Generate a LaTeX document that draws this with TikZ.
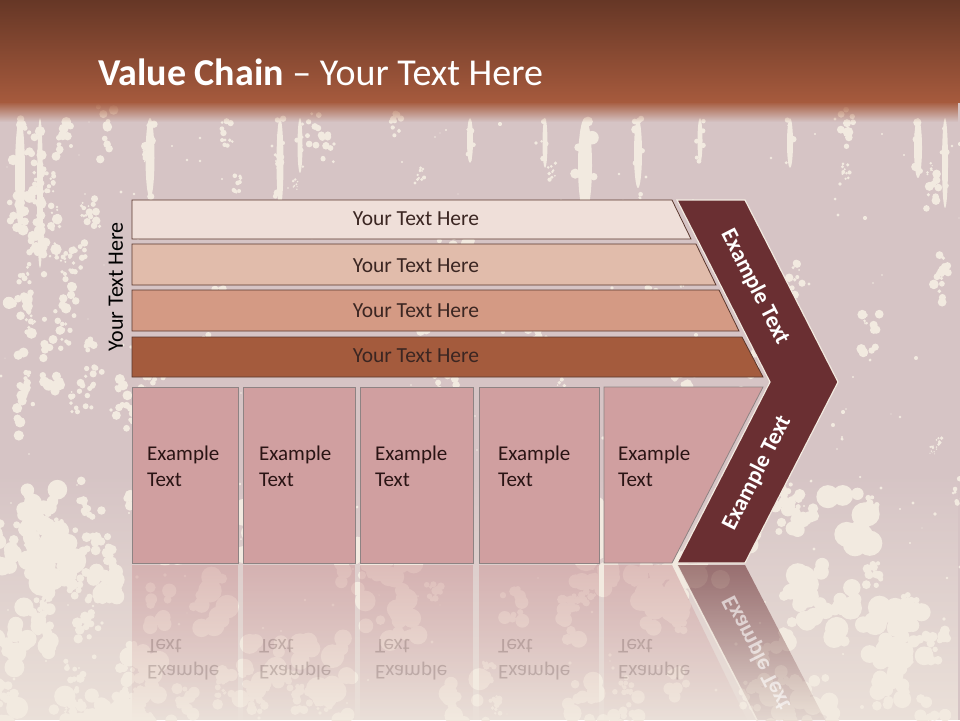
\documentclass[tikz,border=0pt]{standalone}
\usepackage{fontspec}
\setmainfont{Carlito}
\usetikzlibrary{fadings}
\definecolor{bgtop}{HTML}{D6C4C5}
\definecolor{cream}{HTML}{F2EAE0}
\definecolor{hdrtop}{HTML}{663726}
\definecolor{hdrbot}{HTML}{A65A3D}
\definecolor{barA}{HTML}{EFDFD9}
\definecolor{barB}{HTML}{E1BCAB}
\definecolor{barC}{HTML}{D49A84}
\definecolor{barD}{HTML}{A45B3D}
\definecolor{barline}{HTML}{5A372D}
\definecolor{bartxt}{HTML}{3B2622}
\definecolor{chev}{HTML}{6A2F32}
\definecolor{boxc}{HTML}{D09FA0}
\definecolor{boxline}{HTML}{8E8383}
\definecolor{boxtxt}{HTML}{2A1414}
\tikzfading[name=reflfade, top color=transparent!40, bottom color=transparent!100]
\tikzfading[name=hdrfade, top color=transparent!0, bottom color=transparent!100]
\tikzfading[name=risefade, top color=transparent!100, bottom color=transparent!25]
\tikzset{
  barshape/.style={draw=barline, line width=0.8pt},
  bartext/.style={font=\fontsize{21.5}{24}\selectfont, text=bartxt, inner sep=0pt},
  ebox/.style={fill=boxc, draw=boxline, line width=0.8pt},
  eboxtext/.style={font=\fontsize{21}{26}\selectfont, text=boxtxt, align=left, inner sep=0pt, anchor=west},
  chevtext/.style={font=\fontsize{23}{26}\selectfont\bfseries, text=white, inner sep=0pt},
  reflbox/.style={fill=boxc, path fading=reflfade, draw=none},
  refltext/.style={font=\fontsize{21}{26}\selectfont, text=boxtxt, align=left, inner sep=0pt, opacity=0.2, yscale=-1},
  speck/.style={fill=cream},
}
\begin{document}
\begin{tikzpicture}[x=1pt,y=-1pt]
\useasboundingbox (0,0) rectangle (960,720);
% background
\fill[bgtop] (0,0) rectangle (960,720);
\fill[cream, path fading=risefade] (0,470) rectangle (960,720);
% splatter texture: drips from the top
\pgfmathsetseed{23}
\foreach \dx/\dw/\dl in {20/10/110, 40/6/150, 150/9/80, 280/7/90, 300/5/55, 470/6/45, 545/5/50,
                         585/14/95, 638/8/70, 700/5/45, 790/6/50, 918/8/60, 945/6/90} {
  \fill[speck] (\dx,{118+\dl/2}) ellipse ({\dw/2} and {\dl/2});
  \foreach \k in {1,...,6} {
    \pgfmathsetmacro\px{\dx+\dw*(rnd-0.5)*1.4}
    \pgfmathsetmacro\py{118+\dl*rnd}
    \pgfmathsetmacro\pr{\dw*(0.25+0.3*rnd)}
    \fill[speck] (\px,\py) circle (\pr);
  }
}
% splatter texture: irregular clusters
\foreach \c in {1,...,70} {
  \pgfmathsetmacro\cx{random(0,960)}
  \pgfmathsetmacro\cy{random(118,520)}
  \pgfmathsetmacro\R{2+8*rnd}
  \foreach \k in {1,...,10} {
    \pgfmathsetmacro\px{\cx+\R*(2*rnd-1)}
    \pgfmathsetmacro\py{\cy+\R*(2*rnd-1)*2.2}
    \pgfmathsetmacro\pr{\R*(0.2+0.35*rnd)}
    \fill[speck] (\px,\py) circle (\pr);
  }
}
\foreach \c in {1,...,90} {
  \pgfmathsetmacro\cx{random(0,960)}
  \pgfmathsetmacro\cy{random(500,720)}
  \pgfmathsetmacro\R{6+18*rnd}
  \foreach \k in {1,...,12} {
    \pgfmathsetmacro\px{\cx+\R*(2*rnd-1)}
    \pgfmathsetmacro\py{\cy+\R*(2*rnd-1)*1.4}
    \pgfmathsetmacro\pr{\R*(0.2+0.35*rnd)}
    \fill[speck] (\px,\py) circle (\pr);
  }
}
\foreach \c in {1,...,30} {
  \pgfmathsetmacro\cx{random(0,110)}
  \pgfmathsetmacro\cy{random(120,720)}
  \pgfmathsetmacro\R{4+10*rnd}
  \foreach \k in {1,...,10} {
    \pgfmathsetmacro\px{\cx+\R*(2*rnd-1)}
    \pgfmathsetmacro\py{\cy+\R*(2*rnd-1)*2.5}
    \pgfmathsetmacro\pr{\R*(0.2+0.3*rnd)}
    \fill[speck] (\px,\py) circle (\pr);
  }
}
\foreach \i in {1,...,300} {
  \pgfmathsetmacro\xx{random(0,960)}
  \pgfmathsetmacro\yy{random(118,720)}
  \pgfmathsetmacro\ww{0.5+1.6*rnd}
  \fill[speck] (\xx,\yy) circle ({\ww});
}
% header band
\shade[top color=hdrtop, bottom color=hdrbot] (0,0) rectangle (960,102);
\fill[hdrbot, path fading=hdrfade] (0,101.5) rectangle (960,122);
\node[anchor=base west, inner sep=0pt, text=white, font=\fontsize{38}{42}\selectfont] (title) at (98,85)
  {\textbf{Value Chain} – Your Text Here};
% side label
\node[bartext, text=black, font=\fontsize{22}{24}\selectfont, rotate=90] (side) at (116,287) {Your Text Here};
% bars
\path[barshape, fill=barA] (132,200) -- (672,200) -- (691,239) -- (132,239) -- cycle;
\path[barshape, fill=barB] (132,244) -- (696,244) -- (716,285) -- (132,285) -- cycle;
\path[barshape, fill=barC] (132,290) -- (719,290) -- (739,331) -- (132,331) -- cycle;
\path[barshape, fill=barD] (132,337) -- (742,337) -- (763,377) -- (132,377) -- cycle;
\node[bartext] (b1) at (416,218.5) {Your Text Here};
\node[bartext] (b2) at (416,265.5) {Your Text Here};
\node[bartext] (b3) at (416,311) {Your Text Here};
\node[bartext] (b4) at (416,356) {Your Text Here};
% boxes
\path[ebox] (132,387) rectangle (238,563);
\path[ebox] (243,387) rectangle (355,563);
\path[ebox] (360,387) rectangle (473,563);
\path[ebox] (479,387) rectangle (599,563);
\path[ebox] (604,387) -- (763,387) -- (672,563) -- (604,563) -- cycle;
\node[eboxtext] (e1) at (147,466) {Example\\Text};
\node[eboxtext] (e2) at (259,466) {Example\\Text};
\node[eboxtext] (e3) at (375,466) {Example\\Text};
\node[eboxtext] (e4) at (498,466) {Example\\Text};
\node[eboxtext] (e5) at (618,466) {Example\\Text};
% chevron
\path[fill=chev, draw=cream, line width=1.2pt] (677,200) -- (745,200) -- (838,382) -- (745,563) -- (677,563) -- (770,382) -- cycle;
\node[chevtext, rotate=-63] (c1) at (755,287) {Example Text};
\node[chevtext, rotate=63] (c2) at (757,473) {Example Text};
% reflection
\path[reflbox] (132,565) rectangle (238,720);
\path[reflbox] (243,565) rectangle (355,720);
\path[reflbox] (360,565) rectangle (473,720);
\path[reflbox] (479,565) rectangle (599,720);
\path[reflbox] (604,565) -- (672,565) -- (747,720) -- (604,720) -- cycle;
\path[fill=chev, path fading=reflfade] (677,565) -- (745,565) -- (833,735) -- (765,735) -- cycle;
\draw[cream, line width=1.5pt, opacity=0.9] (677,565) -- (760,726);
\node[refltext, anchor=west] (r1) at (147,660) {Example\\Text};
\node[refltext, anchor=west] (r2) at (259,660) {Example\\Text};
\node[refltext, anchor=west] (r3) at (375,660) {Example\\Text};
\node[refltext, anchor=west] (r4) at (498,660) {Example\\Text};
\node[refltext, anchor=west] (r5) at (618,660) {Example\\Text};
\node[chevtext, rotate=-63, yscale=-1, opacity=0.6] (rc) at (757,653) {Example Text};
\end{tikzpicture}
\end{document}
